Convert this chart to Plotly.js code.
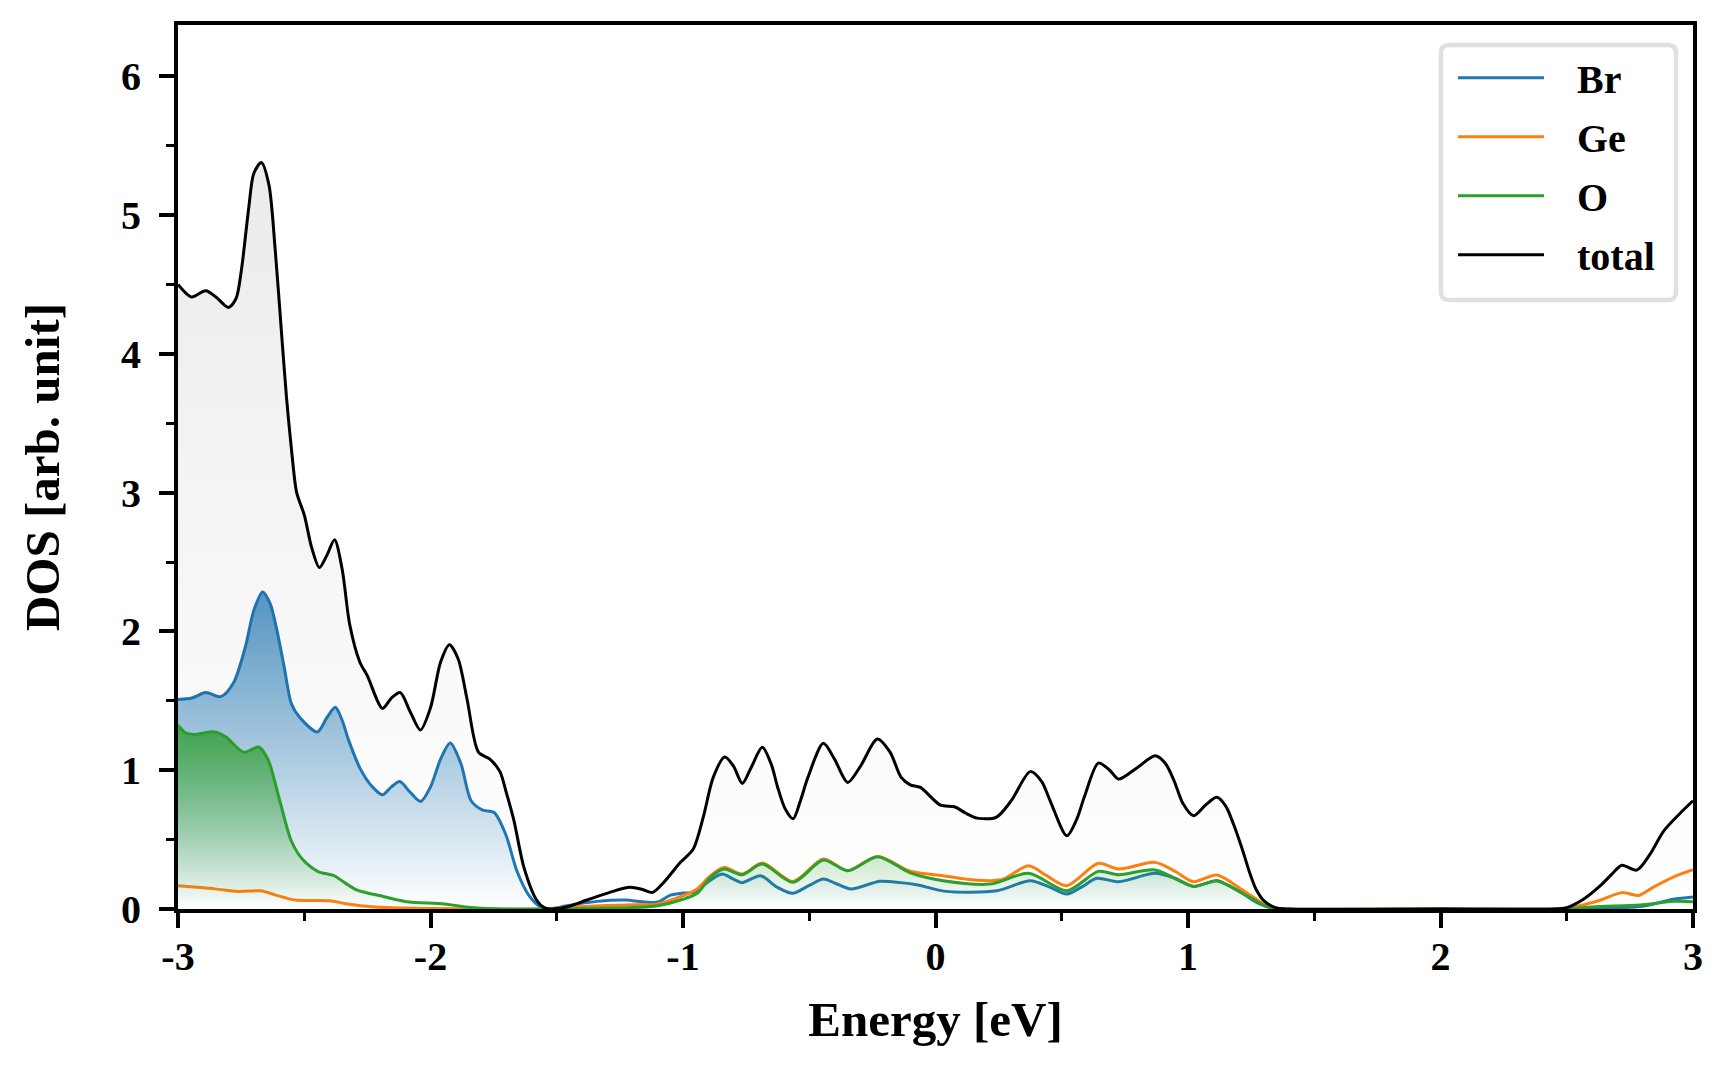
<!DOCTYPE html>
<html>
<head>
<meta charset="utf-8">
<script src="https://cdn.plot.ly/plotly-3.0.1.min.js"></script>
<style>html,body{margin:0;padding:0;background:#fff;}#chart{width:1728px;height:1080px;}</style>
</head>
<body>
<div id="chart"></div>
<script>
// ---- data ----
const seriesNames = ["Br", "Ge", "O", "total"];

const energyBr = [-3.00,-2.945,-2.89,-2.83,-2.78,-2.733,-2.70,-2.665,-2.635,-2.612,-2.58,-2.551,-2.52,-2.448,-2.41,-2.377,-2.35,-2.324,-2.278,-2.23,-2.19,-2.155,-2.122,-2.08,-2.039,-2.00,-1.96,-1.922,-1.88,-1.839,-1.793,-1.748,-1.702,-1.657,-1.611,-1.566,-1.53,-1.46,-1.34,-1.23,-1.15,-1.10,-1.05,-1.00,-0.958,-0.905,-0.845,-0.80,-0.766,-0.693,-0.63,-0.567,-0.50,-0.444,-0.39,-0.335,-0.22,-0.14,-0.07,0.04,0.243,0.375,0.45,0.52,0.58,0.639,0.725,0.87,0.95,1.022,1.114,1.16,1.22,1.27,1.312,1.36,2.00,2.50,2.80,2.922,3.00];
const dosBr = [1.51,1.52,1.56,1.53,1.63,1.89,2.15,2.285,2.20,2.04,1.75,1.48,1.385,1.276,1.38,1.453,1.36,1.215,1.01,0.88,0.823,0.88,0.918,0.84,0.775,0.88,1.08,1.196,1.05,0.78,0.712,0.695,0.537,0.27,0.10,0.017,0.0,0.024,0.055,0.065,0.05,0.05,0.10,0.115,0.12,0.19,0.252,0.215,0.19,0.24,0.16,0.113,0.17,0.216,0.18,0.144,0.20,0.19,0.173,0.127,0.132,0.204,0.16,0.108,0.16,0.221,0.197,0.257,0.22,0.163,0.204,0.17,0.108,0.05,0.017,0.0,0.0,0.0,0.02,0.07,0.087];

const energyGe = [-3.00,-2.854,-2.763,-2.672,-2.612,-2.536,-2.40,-2.34,-2.278,-2.17,-2.00,-1.80,-1.55,-1.46,-1.30,-1.196,-1.103,-1.00,-0.944,-0.891,-0.838,-0.766,-0.686,-0.564,-0.444,-0.348,-0.229,-0.10,0.03,0.10,0.217,0.27,0.369,0.44,0.52,0.645,0.725,0.87,0.95,1.022,1.114,1.22,1.299,1.34,1.40,2.00,2.45,2.54,2.632,2.718,2.784,2.843,2.922,3.00];
const dosGe = [0.167,0.145,0.126,0.131,0.10,0.065,0.06,0.04,0.024,0.01,0.003,0.0,0.0,0.012,0.025,0.03,0.035,0.096,0.144,0.24,0.30,0.252,0.331,0.199,0.36,0.276,0.379,0.272,0.24,0.22,0.204,0.216,0.312,0.24,0.168,0.329,0.288,0.336,0.27,0.197,0.245,0.132,0.036,0.007,0.0,0.0,0.0,0.02,0.063,0.118,0.098,0.158,0.23,0.283];

const energyO = [-3.00,-2.97,-2.938,-2.854,-2.81,-2.74,-2.68,-2.642,-2.597,-2.551,-2.506,-2.445,-2.384,-2.34,-2.293,-2.187,-2.096,-1.945,-1.84,-1.70,-1.20,-1.10,-1.00,-0.944,-0.891,-0.838,-0.766,-0.686,-0.564,-0.444,-0.348,-0.229,-0.10,0.03,0.217,0.369,0.52,0.645,0.725,0.87,1.022,1.114,1.22,1.312,1.36,2.00,2.50,2.60,2.80,2.922,3.00];
const dosO = [1.325,1.27,1.257,1.276,1.24,1.13,1.167,1.07,0.78,0.49,0.356,0.27,0.242,0.19,0.138,0.09,0.053,0.036,0.01,0.0,0.01,0.024,0.07,0.113,0.228,0.288,0.247,0.324,0.192,0.353,0.276,0.377,0.26,0.204,0.18,0.257,0.132,0.271,0.247,0.281,0.163,0.204,0.108,0.017,0.0,0.0,0.0,0.015,0.03,0.055,0.053];

const energyTotal = [-3.00,-2.97,-2.945,-2.89,-2.85,-2.80,-2.77,-2.75,-2.72,-2.70,-2.67,-2.64,-2.615,-2.59,-2.57,-2.55,-2.53,-2.50,-2.47,-2.44,-2.41,-2.38,-2.35,-2.32,-2.28,-2.25,-2.19,-2.155,-2.12,-2.08,-2.04,-2.00,-1.96,-1.925,-1.89,-1.855,-1.81,-1.765,-1.725,-1.70,-1.67,-1.63,-1.58,-1.55,-1.52,-1.45,-1.38,-1.29,-1.21,-1.16,-1.12,-1.077,-1.01,-0.96,-0.92,-0.88,-0.835,-0.80,-0.765,-0.73,-0.686,-0.65,-0.625,-0.595,-0.564,-0.535,-0.505,-0.444,-0.40,-0.348,-0.30,-0.23,-0.18,-0.136,-0.10,-0.06,0.02,0.075,0.12,0.165,0.24,0.30,0.375,0.42,0.454,0.52,0.56,0.59,0.645,0.69,0.725,0.80,0.87,0.91,0.945,0.98,1.022,1.07,1.114,1.15,1.18,1.215,1.246,1.27,1.30,1.35,1.40,2.00,2.45,2.50,2.566,2.632,2.678,2.718,2.777,2.83,2.883,2.949,3.00];
const dosTotal = [4.50,4.44,4.41,4.455,4.41,4.335,4.40,4.59,5.05,5.30,5.38,5.22,4.75,4.15,3.68,3.30,3.00,2.84,2.60,2.46,2.55,2.66,2.45,2.05,1.78,1.68,1.445,1.52,1.56,1.42,1.29,1.45,1.78,1.905,1.80,1.51,1.13,1.08,0.99,0.84,0.64,0.30,0.065,0.01,0.0,0.02,0.065,0.12,0.156,0.14,0.12,0.19,0.336,0.43,0.66,0.95,1.095,1.03,0.905,1.02,1.165,1.04,0.876,0.72,0.65,0.78,0.95,1.195,1.08,0.912,1.02,1.225,1.13,0.948,0.895,0.876,0.748,0.737,0.69,0.655,0.66,0.78,0.99,0.92,0.78,0.528,0.65,0.81,1.051,1.00,0.936,1.02,1.104,1.05,0.924,0.76,0.672,0.75,0.805,0.74,0.612,0.43,0.252,0.14,0.06,0.007,0.0,0.0,0.0,0.01,0.07,0.166,0.25,0.315,0.28,0.395,0.56,0.69,0.78];

const xTickVals = [-3, -2, -1, 0, 1, 2, 3];
const yTickVals = [0, 1, 2, 3, 4, 5, 6];

// ---- styling ----
const FONT = "Liberation Serif, Times New Roman, serif";
const colors = {Br: "#1f77b4", Ge: "#ff7f0e", O: "#2ca02c", total: "#000000"};
const LEGEND_PAD = "\u2002\u2009"; // spacing between legend line sample and label

function lineTrace(name, xs, ys) {
  return {
    type: "scatter", mode: "lines", name: LEGEND_PAD + name, x: xs, y: ys,
    line: {color: colors[name], width: 3, shape: "spline", smoothing: 0.8},
    legendgroup: name, hoverinfo: "skip"
  };
}
function fillTrace(name, xs, ys, rgb, alpha) {
  return {
    type: "scatter", mode: "lines", name: name, x: xs, y: ys, showlegend: false,
    line: {width: 0, shape: "spline", smoothing: 0.8, color: "rgba(0,0,0,0)"},
    fill: "tozeroy", fillcolor: "rgba(" + rgb + ",0.3)",
    fillgradient: {
      type: "vertical", start: 0, stop: Math.max.apply(null, ys),
      colorscale: [[0, "rgba(" + rgb + ",0)"], [1, "rgba(" + rgb + "," + alpha + ")"]]
    },
    legendgroup: name, hoverinfo: "skip"
  };
}

const data = [
  fillTrace("Br", energyBr, dosBr, "31,119,180", 0.75),
  lineTrace("Br", energyBr, dosBr),
  lineTrace("Ge", energyGe, dosGe),
  fillTrace("O", energyO, dosO, "44,160,44", 0.8),
  lineTrace("O", energyO, dosO),
  fillTrace("total", energyTotal, dosTotal, "0,0,0", 0.08),
  lineTrace("total", energyTotal, dosTotal)
];

const axisCommon = {
  showline: true, mirror: true, linecolor: "#000", linewidth: 4,
  ticks: "outside", ticklen: 15, tickwidth: 4, tickcolor: "#000",
  showgrid: false, zeroline: false,
  tickfont: {family: FONT, size: 40, color: "#000", weight: "bold"},
  minor: {dtick: 0.5, ticks: "outside", ticklen: 8, tickwidth: 3, tickcolor: "#000", showgrid: false}
};

// legend frame (rounded rectangle) in paper coordinates
const PW = 1515, PH = 884;
const fx0 = (1441 - 178) / PW, fx1 = (1676 - 178) / PW;
const fy1 = 1 - (45 - 25) / PH, fy0 = 1 - (300 - 25) / PH;
const rx = 8 / PW, ry = 8 / PH;
const framePath = "M" + (fx0 + rx) + "," + fy1 + " L" + (fx1 - rx) + "," + fy1 +
  " Q" + fx1 + "," + fy1 + " " + fx1 + "," + (fy1 - ry) + " L" + fx1 + "," + (fy0 + ry) +
  " Q" + fx1 + "," + fy0 + " " + (fx1 - rx) + "," + fy0 + " L" + (fx0 + rx) + "," + fy0 +
  " Q" + fx0 + "," + fy0 + " " + fx0 + "," + (fy0 + ry) + " L" + fx0 + "," + (fy1 - ry) +
  " Q" + fx0 + "," + fy1 + " " + (fx0 + rx) + "," + fy1 + " Z";

const layout = {
  width: 1728, height: 1080,
  margin: {l: 178, r: 35, t: 25, b: 171},
  paper_bgcolor: "#fff", plot_bgcolor: "#fff",
  showlegend: true,
  xaxis: Object.assign({}, axisCommon, {
    range: [-3, 3], tickmode: "array", tickvals: xTickVals, ticktext: xTickVals.map(String),
    ticklabelstandoff: -6,
    title: {text: "Energy [eV]", font: {family: FONT, size: 49, color: "#000", weight: "bold"}, standoff: 25}
  }),
  yaxis: Object.assign({}, axisCommon, {
    range: [0, 6.37], tickmode: "array", tickvals: yTickVals, ticktext: yTickVals.map(String),
    ticklabelstandoff: 10,
    title: {text: "DOS [arb. unit]", font: {family: FONT, size: 49, color: "#000", weight: "bold"}, standoff: 47}
  }),
  shapes: [{
    type: "path", xref: "paper", yref: "paper", path: framePath, layer: "above",
    fillcolor: "#fff", line: {color: "#e0e0e0", width: 4.5}
  }],
  legend: {
    x: (1453 - 178) / PW, y: 0.977, xanchor: "left", yanchor: "top",
    bgcolor: "rgba(0,0,0,0)", borderwidth: 0,
    font: {family: FONT, size: 40, color: "#000", weight: "bold"},
    tracegroupgap: 4, itemwidth: 86, traceorder: "grouped"
  }
};

Plotly.newPlot("chart", data, layout, {displayModeBar: false, staticPlot: true});
</script>
</body>
</html>
